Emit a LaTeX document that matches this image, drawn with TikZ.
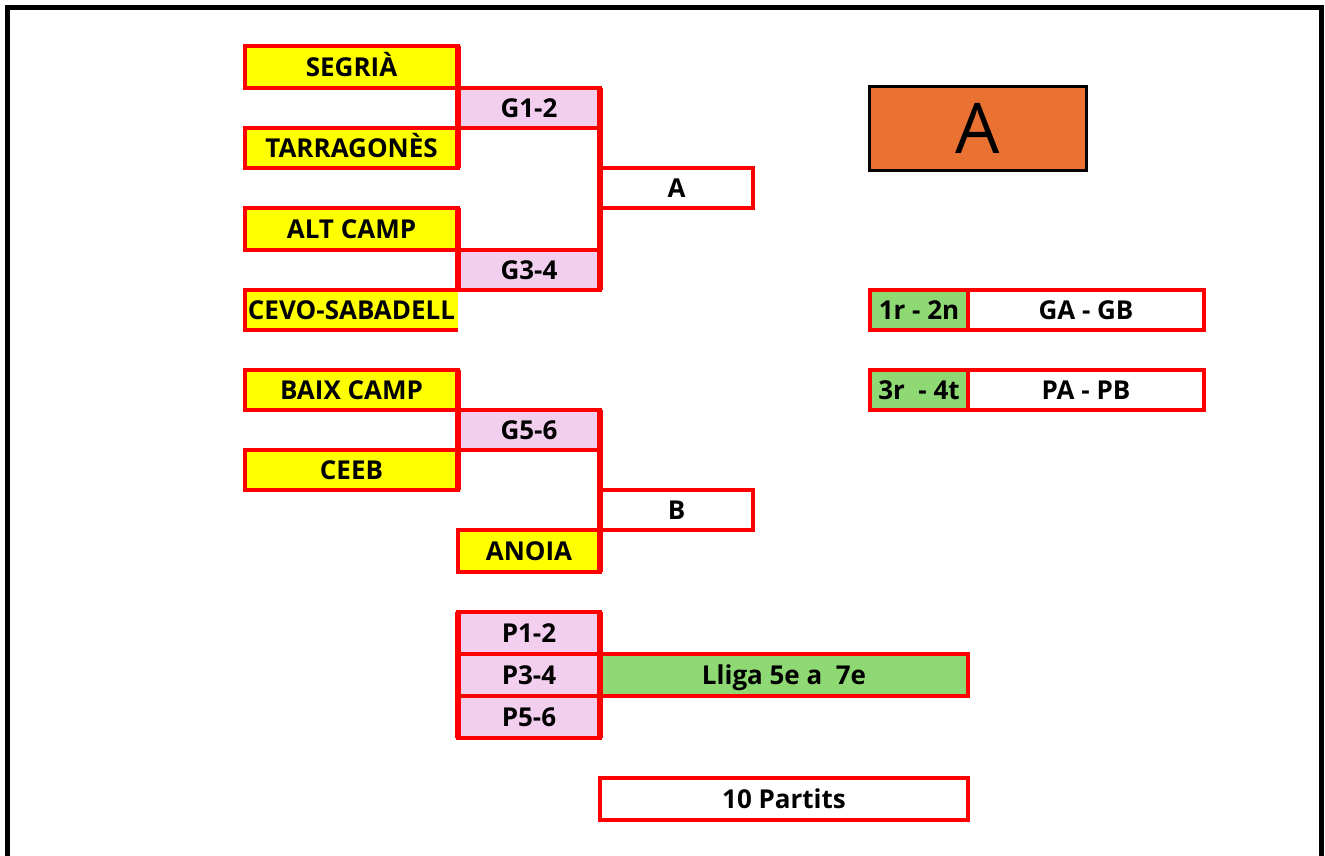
\documentclass[tikz,border=0pt]{standalone}
\usepackage{fontspec}
\setmainfont{Open Sans}
\definecolor{cred}{HTML}{FF0000}
\definecolor{cyel}{HTML}{FFFF00}
\definecolor{cpink}{HTML}{F2CEEF}
\definecolor{cgreen}{HTML}{8ED973}
\definecolor{corange}{HTML}{E97132}
\begin{document}
\begin{tikzpicture}[x=1pt,y=-1pt,
  cell/.style={draw=cred, line width=4.5pt, inner sep=0pt, outer sep=0pt, minimum height=40pt,
    text height=18.5pt, text depth=0pt, font=\fontsize{26}{30}\selectfont\bfseries},
  team/.style={cell, fill=cyel, minimum width=213pt},
  game/.style={cell, fill=cpink, minimum width=142pt},
  final/.style={cell, fill=white, minimum width=153pt},
  wide/.style={cell, minimum width=368pt},
  rank/.style={cell, fill=cgreen, minimum width=98pt},
  pair/.style={cell, fill=white, minimum width=236pt},
  conn/.style={draw=cred, line width=6pt},
  frame/.style={draw=black, line width=5pt}]
\useasboundingbox (0,0) rectangle (1325,856);
\draw[frame] (7.5,870) -- (7.5,7.5) -- (1321.5,7.5) -- (1321.5,870);

% group A bracket
\node[team, minimum height=42pt] (segria) at (351.5,67) {SEGRIÀ};
\node[game] (g12) at (529,108) {G1-2};
\node[team] (tarr) at (351.5,148) {TARRAGONÈS};
\node[final] (fa) at (676.5,188) {A};
\node[team, minimum height=42pt] (alt) at (351.5,229) {ALT CAMP};
\node[game] (g34) at (529,270) {G3-4};
\node[team, draw=none] (cevo) at (351.5,310) {CEVO-SABADELL};
\draw[cred, line width=4.5pt] (cevo.north east) -- (cevo.north west) -- (cevo.south west) -- (cevo.south east);

% group B bracket
\node[team] (baix) at (351.5,390) {BAIX CAMP};
\node[game] (g56) at (529,430) {G5-6};
\node[team] (ceeb) at (351.5,470) {CEEB};
\node[final] (fb) at (676.5,510) {B};
\node[game, fill=cyel, minimum height=42pt] (anoia) at (529,551) {ANOIA};

% connectors
\draw[conn] (segria.north east) -- (tarr.south east);
\draw[conn] (alt.north east) -- (g34.south west);
\draw[conn] (g12.north east) -- (g34.south east);
\draw[conn] (baix.north east) -- (ceeb.south east);
\draw[conn] (g56.north east) -- (anoia.south east);

% placement
\node[game, minimum height=42pt] (p12) at (529,633) {P1-2};
\node[game, minimum height=42pt] (p34) at (529,675) {P3-4};
\node[game, minimum height=42pt] (p56) at (529,717) {P5-6};
\node[wide, fill=cgreen, minimum height=42pt] (lliga) at (784,675) {Lliga 5e a\ \ 7e};
\draw[conn] (p12.north west) -- (p56.south west);
\draw[conn] (p12.north east) -- (p56.south east);
\node[wide, fill=white, minimum height=42pt] (partits) at (784,799) {10 Partits};

% right side
\node[draw=black, line width=3pt, outer sep=0pt, fill=corange, minimum width=217.5pt, minimum height=83.5pt,
  inner sep=0pt, text height=50pt, text depth=0pt, font=\fontsize{70}{80}\selectfont] (bigA) at (977.75,128.25) {A};
\node[rank] (r12) at (919,310) {1r - 2n};
\node[pair] (gagb) at (1086,310) {GA - GB};
\node[rank] (r34) at (919,390) {3r\ \ - 4t};
\node[pair] (papb) at (1086,390) {PA - PB};
\end{tikzpicture}
\end{document}
